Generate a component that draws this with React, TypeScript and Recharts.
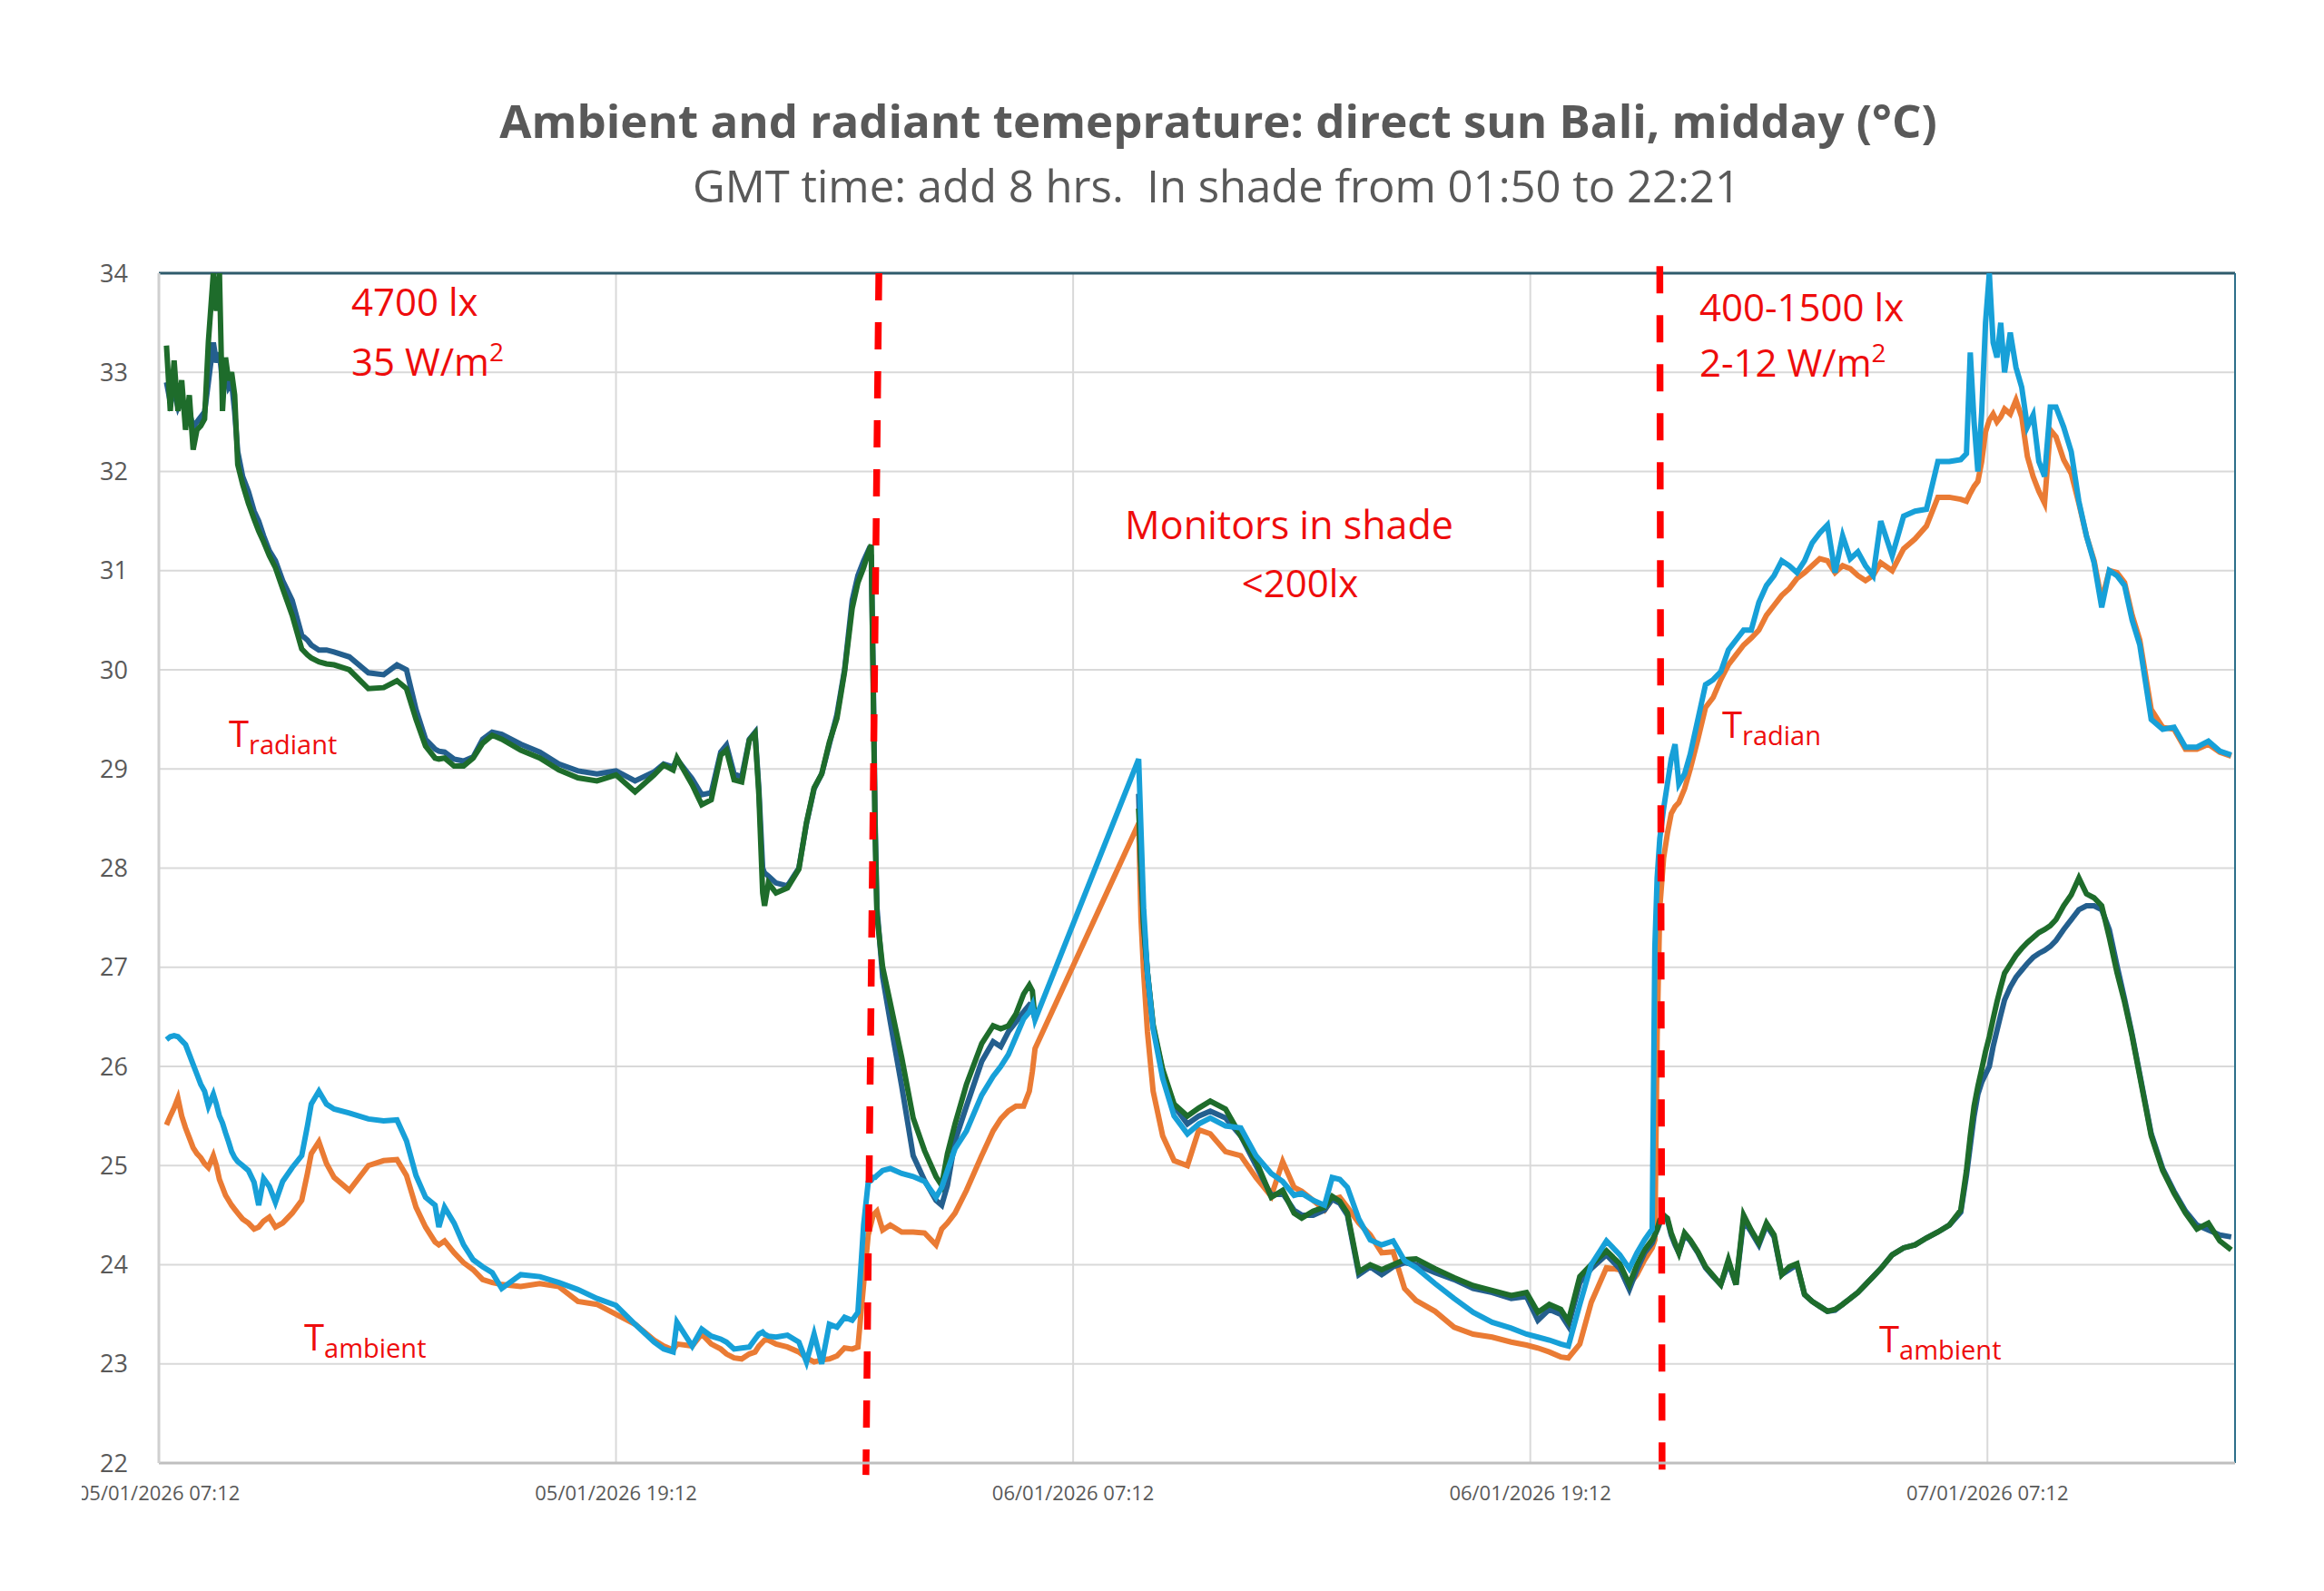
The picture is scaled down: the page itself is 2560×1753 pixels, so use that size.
import { CartesianGrid, Line, LineChart, ReferenceLine, XAxis, YAxis } from "recharts";

// hours since 05/01/2026 07:12
const hours = [
  0.2, 0.3, 0.4, 0.5, 0.6, 0.7, 0.8, 0.9, 1.0, 1.1,
  1.2, 1.3, 1.43, 1.51, 1.59, 1.67, 1.75, 1.83, 1.91, 1.99,
  2.07, 2.2, 2.35, 2.5, 2.62, 2.75, 2.9, 3.06, 3.25, 3.5,
  3.75, 3.9, 4.0, 4.2, 4.4, 4.6, 5.0, 5.5, 5.9, 6.25,
  6.5, 6.75, 7.0, 7.25, 7.35, 7.5, 7.75, 8.0, 8.25, 8.5,
  8.75, 9.0, 9.5, 10.0, 10.5, 11.0, 11.5, 12.0, 12.5, 13.0,
  13.25, 13.5, 13.6, 14.0, 14.25, 14.5, 14.75, 14.9, 15.1, 15.3,
  15.5, 15.65, 15.75, 15.85, 15.9, 16.0, 16.2, 16.5, 16.8, 17.0,
  17.2, 17.4, 17.6, 17.8, 18.0, 18.2, 18.35, 18.5, 18.62, 18.7,
  18.75, 18.8, 18.85, 19.0, 19.2, 19.5, 19.8, 20.1, 20.4, 20.55,
  20.7, 20.9, 21.2, 21.6, 21.9, 22.1, 22.3, 22.5, 22.7, 22.85,
  22.93, 23.0, 24.5, 25.72, 25.78, 25.85, 25.95, 26.1, 26.35, 26.65,
  27.0, 27.3, 27.6, 28.0, 28.4, 28.8, 29.2, 29.5, 29.8, 30.0,
  30.3, 30.6, 30.8, 31.0, 31.2, 31.5, 31.8, 32.1, 32.4, 32.7,
  33.0, 33.5, 34.0, 34.5, 35.0, 35.5, 35.9, 36.2, 36.5, 36.8,
  37.0, 37.3, 37.6, 38.0, 38.35, 38.6, 38.8, 39.0, 39.2, 39.27,
  39.33, 39.4, 39.5, 39.6, 39.7, 39.8, 39.9, 40.05, 40.2, 40.4,
  40.6, 40.8, 41.0, 41.2, 41.4, 41.6, 41.8, 42.0, 42.2, 42.4,
  42.6, 42.8, 43.0, 43.2, 43.4, 43.6, 43.8, 44.0, 44.2, 44.4,
  44.6, 44.8, 45.0, 45.2, 45.5, 45.8, 46.1, 46.4, 46.7, 47.0,
  47.3, 47.45, 47.55, 47.65, 47.75, 47.85, 47.95, 48.05, 48.15, 48.25,
  48.35, 48.45, 48.6, 48.75, 48.9, 49.05, 49.2, 49.35, 49.5, 49.65,
  49.8, 50.0, 50.2, 50.4, 50.6, 50.8, 51.0, 51.2, 51.4, 51.6,
  51.8, 52.0, 52.3, 52.6, 52.9, 53.2, 53.5, 53.8, 54.1, 54.4,
];

const darkBlue = [
  32.9, 32.7, 32.8, 32.65, 32.75, 32.55, 32.6, 32.45, 32.5, 32.55,
  32.6, 32.9, 33.3, 33.1, 33.2, 32.9, 33.0, 32.85, 32.9, 32.6,
  32.2, 31.95, 31.8, 31.6, 31.5, 31.35, 31.2, 31.1, 30.9, 30.7,
  30.35, 30.3, 30.25, 30.2, 30.2, 30.18, 30.13, 29.97, 29.95, 30.05,
  30.0, 29.6, 29.3, 29.2, 29.18, 29.17, 29.1, 29.08, 29.12, 29.3,
  29.37, 29.35, 29.25, 29.17, 29.05, 28.98, 28.95, 28.98, 28.88, 28.97,
  29.05, 29.02, 29.1, 28.9, 28.74, 28.76, 29.17, 29.24, 28.95, 28.92,
  29.3, 29.37, 28.8, 28.0, 27.95, 27.92, 27.85, 27.82, 28.0, 28.45,
  28.8, 28.95, 29.25, 29.55, 30.0, 30.7, 30.95, 31.1, 31.2, 31.15,
  30.0, 28.5, 27.6, 26.9, 26.45, 25.8, 25.1, 24.85, 24.65, 24.6,
  24.8, 25.25, 25.6, 26.05, 26.25, 26.2, 26.35, 26.45, 26.55, 26.62,
  26.6, 26.47, null, 28.75, 28.0, 27.4, 26.95, 26.4, 25.95, 25.6,
  25.42, 25.5, 25.55, 25.48, 25.3, 25.0, 24.7, 24.72, 24.55, 24.5,
  24.5, 24.55, 24.66, 24.62, 24.5, 23.9, 23.98, 23.9, 23.98, 24.02,
  24.0, 23.92, 23.85, 23.76, 23.72, 23.66, 23.68, 23.44, 23.55, 23.5,
  23.38, 23.82, 23.96, 24.1, 23.96, 23.75, 23.95, 24.12, 24.22, 24.3,
  24.35, 24.42, 24.5, 24.45, 24.3, 24.2, 24.12, 24.3, 24.24, 24.12,
  23.97, 23.88, 23.8, 24.02, 23.8, 24.45, 24.33, 24.2, 24.4, 24.28,
  23.9, 23.95, 24.0, 23.7, 23.63, 23.58, 23.53, 23.54, 23.6, 23.66,
  23.72, 23.8, 23.88, 23.96, 24.1, 24.17, 24.2, 24.27, 24.33, 24.4,
  24.53, 24.9, 25.2, 25.5, 25.72, 25.84, 25.92, 26.0, 26.2, 26.36,
  26.52, 26.67, 26.8, 26.9, 26.97, 27.04, 27.1, 27.14, 27.17, 27.21,
  27.27, 27.38, 27.48, 27.58, 27.62, 27.62, 27.58, 27.38, 27.02, 26.68,
  26.32, 25.92, 25.32, 24.97, 24.74, 24.54, 24.4, 24.35, 24.3, 24.28,
];

const green = [
  33.27, 32.61, 33.12, 32.61, 32.92, 32.42, 32.77, 32.22, 32.42, 32.46,
  32.53, 33.31, 34.0, 33.62, 34.0, 32.61, 33.15, 32.92, 33.0, 32.77,
  32.07, 31.87, 31.68, 31.52, 31.4, 31.29, 31.15, 31.03, 30.82, 30.55,
  30.21, 30.15, 30.12, 30.08, 30.06, 30.05, 30.0, 29.81, 29.82, 29.89,
  29.81, 29.5, 29.23, 29.11, 29.1, 29.11, 29.03, 29.03, 29.11, 29.26,
  29.34, 29.3, 29.19, 29.11, 28.99, 28.91, 28.88, 28.94, 28.77, 28.94,
  29.04, 28.99, 29.11, 28.84, 28.64, 28.69, 29.14, 29.19, 28.89, 28.87,
  29.29, 29.36, 28.74, 27.75, 27.62, 27.85, 27.75, 27.8, 27.99, 28.46,
  28.81, 28.95, 29.27, 29.51, 29.98, 30.62, 30.88, 31.03, 31.18, 31.26,
  29.86, 28.4, 27.52, 27.0, 26.64, 26.09, 25.48, 25.15, 24.89, 24.8,
  25.12, 25.42, 25.82, 26.23, 26.41, 26.38, 26.41, 26.53, 26.73, 26.82,
  26.76, 26.47, null, 28.6, 28.05, 27.45, 26.95, 26.42, 25.97, 25.62,
  25.5, 25.58, 25.65, 25.57, 25.3, 25.05, 24.68, 24.75, 24.52, 24.47,
  24.54, 24.58, 24.69, 24.64, 24.52, 23.93, 24.0, 23.95, 24.0, 24.05,
  24.06, 23.96, 23.87, 23.79, 23.74, 23.69, 23.72, 23.52, 23.6, 23.55,
  23.43, 23.88, 24.0, 24.14, 24.01, 23.8, 24.0, 24.15, 24.25, 24.3,
  24.36, 24.45, 24.5, 24.47, 24.32, 24.22, 24.12, 24.32, 24.25, 24.13,
  23.98, 23.89, 23.8, 24.05, 23.8, 24.5, 24.35, 24.22, 24.42, 24.3,
  23.9, 23.98, 24.01, 23.7, 23.63, 23.58, 23.53, 23.55, 23.6, 23.66,
  23.72, 23.8, 23.88, 23.96, 24.1, 24.17, 24.2, 24.27, 24.33, 24.4,
  24.55, 24.95, 25.3, 25.6, 25.8, 25.97, 26.15, 26.3, 26.48, 26.65,
  26.8, 26.94, 27.03, 27.12, 27.19, 27.25, 27.3, 27.35, 27.38, 27.42,
  27.48, 27.62, 27.73, 27.9, 27.74, 27.7, 27.62, 27.3, 26.95, 26.65,
  26.3, 25.9, 25.3, 24.95, 24.72, 24.52, 24.36, 24.42, 24.24, 24.15,
];

const lightBlue = [
  26.27, 26.3, 26.31, 26.3, 26.26, 26.22, 26.12, 26.02, 25.92, 25.82,
  25.75, 25.6, 25.72, 25.62, 25.5, 25.43, 25.33, 25.24, 25.14, 25.08,
  25.04, 25.0, 24.95, 24.83, 24.6, 24.87, 24.79, 24.63, 24.84, 24.98,
  25.1, 25.4, 25.62, 25.75, 25.62, 25.57, 25.53, 25.47, 25.45, 25.46,
  25.25, 24.9, 24.68, 24.6, 24.38, 24.58, 24.42, 24.2, 24.05, 23.98,
  23.92, 23.76, 23.9, 23.88, 23.82, 23.75, 23.66, 23.59, 23.4, 23.22,
  23.15, 23.12, 23.42, 23.18, 23.35, 23.28, 23.25, 23.22, 23.15, 23.16,
  23.17, 23.25, 23.3, 23.32, 23.3, 23.28, 23.27, 23.29, 23.22, 23.02,
  23.3, 23.0, 23.4, 23.37, 23.47, 23.44, 23.52, 24.4, 24.83, 24.85,
  24.88, 24.88, 24.9, 24.95, 24.97, 24.92, 24.89, 24.84, 24.68, 24.78,
  24.95, 25.17, 25.35, 25.71, 25.9, 26.0, 26.12, 26.3, 26.48, 26.55,
  26.62, 26.47, null, 29.1, 28.4, 27.6, 26.94, 26.38, 25.88, 25.5,
  25.32, 25.42, 25.48, 25.4, 25.38, 25.1, 24.92, 24.84, 24.7, 24.72,
  24.65, 24.6, 24.88, 24.86, 24.78, 24.46, 24.25, 24.2, 24.24, 24.04,
  23.97, 23.81, 23.66, 23.52, 23.42, 23.36, 23.3, 23.27, 23.24, 23.2,
  23.18, 23.6, 24.0, 24.24, 24.1, 23.96, 24.12, 24.25, 24.36, 27.2,
  27.9, 28.3, 28.6, 28.85, 29.1, 29.25, 28.85, 28.95, 29.15, 29.5,
  29.85, 29.9, 29.98, 30.2, 30.3, 30.4, 30.4, 30.68, 30.85, 30.95,
  31.1, 31.05, 30.98, 31.1, 31.28, 31.38, 31.46, 30.98, 31.35, 31.12,
  31.19, 31.05, 30.95, 31.5, 31.15, 31.55, 31.6, 31.62, 32.1, 32.1,
  32.12, 32.18, 33.2, 32.5, 32.0, 32.6, 33.5, 34.0, 33.3, 33.15,
  33.5, 33.0, 33.4, 33.05, 32.85, 32.45, 32.57, 32.1, 31.95, 32.65,
  32.65, 32.45, 32.2, 31.7, 31.35, 31.08, 30.63, 31.0, 30.95, 30.85,
  30.5, 30.25, 29.5, 29.4, 29.42, 29.22, 29.22, 29.28, 29.18, 29.14,
];

const orange = [
  25.41, 25.5, 25.58, 25.68, 25.5, 25.38, 25.28, 25.18, 25.12, 25.08,
  25.02, 24.98, 25.1, 25.0, 24.86, 24.78, 24.7, 24.65, 24.6, 24.56,
  24.52, 24.46, 24.42, 24.36, 24.38, 24.44, 24.48, 24.38, 24.42, 24.52,
  24.65, 24.92, 25.12, 25.24, 25.02, 24.88, 24.75, 25.0, 25.05, 25.06,
  24.9, 24.58, 24.38, 24.23, 24.2, 24.24, 24.12, 24.02, 23.95, 23.85,
  23.82, 23.8, 23.78, 23.81, 23.78, 23.63, 23.6, 23.5, 23.4, 23.24,
  23.18, 23.14, 23.2, 23.18, 23.3, 23.2, 23.15, 23.1, 23.06, 23.05,
  23.1, 23.12, 23.18, 23.22, 23.24, 23.24, 23.2, 23.17, 23.12, 23.06,
  23.02, 23.04, 23.05, 23.08, 23.16, 23.15, 23.17, 23.8, 24.3, 24.42,
  24.5, 24.52, 24.54, 24.35, 24.4, 24.33, 24.33, 24.32, 24.2, 24.36,
  24.42, 24.52, 24.75, 25.1, 25.35, 25.47, 25.55, 25.6, 25.6, 25.75,
  25.95, 26.18, null, 28.45, 27.5, 26.95, 26.35, 25.75, 25.3, 25.05,
  25.0, 25.36, 25.32, 25.14, 25.1, 24.88, 24.69, 25.04, 24.78, 24.74,
  24.65, 24.55, 24.66, 24.68, 24.58, 24.42, 24.3, 24.12, 24.13, 23.76,
  23.64, 23.53, 23.37, 23.3, 23.27, 23.22, 23.19, 23.16, 23.12, 23.07,
  23.06, 23.2, 23.62, 23.97, 23.95, 23.8, 23.9, 24.05, 24.17, 24.25,
  26.3, 27.6, 28.1, 28.35, 28.55, 28.62, 28.66, 28.8, 29.0, 29.3,
  29.62, 29.72, 29.9, 30.05, 30.15, 30.25, 30.32, 30.4, 30.55, 30.65,
  30.75, 30.82, 30.92, 30.98, 31.05, 31.12, 31.1, 30.98, 31.05, 31.02,
  30.95, 30.9, 30.95, 31.08, 31.0, 31.22, 31.32, 31.45, 31.74, 31.74,
  31.72, 31.7, 31.78, 31.85, 31.9, 32.1, 32.4, 32.52, 32.58, 32.5,
  32.55, 32.63, 32.58, 32.72, 32.55, 32.15, 31.95, 31.8, 31.68, 32.42,
  32.35, 32.12, 31.98, 31.68, 31.35, 31.1, 30.7, 31.0, 30.98, 30.88,
  30.55, 30.3, 29.6, 29.42, 29.4, 29.2, 29.2, 29.25, 29.17, 29.13,
];

const xTicks = [0, 12, 24, 36, 48];
const xTickLabels = ["05/01/2026 07:12", "05/01/2026 19:12", "06/01/2026 07:12", "06/01/2026 19:12", "07/01/2026 07:12"];
const yTicks = [22, 23, 24, 25, 26, 27, 28, 29, 30, 31, 32, 33, 34];

// start / end of the shade period, drawn as slanted dashed markers
const shadeStart = [{ x: 18.9, y: 34 }, { x: 18.56, y: 21.88 }];
const shadeEnd = [{ x: 39.4, y: 34.07 }, { x: 39.46, y: 21.9 }];

const data = hours.map((h, i) => ({
  h,
  darkBlue: darkBlue[i],
  green: green[i],
  lightBlue: lightBlue[i],
  orange: orange[i],
}));

const FONT = "'Open Sans', sans-serif";
const RED = "#ee0c0c";
const GREY = "#595959";

const Sub = ({ x, y, main, sub }: { x: number; y: number; main: string; sub: string }) => (
  <text x={x} y={y} fill={RED} fontFamily={FONT} fontSize={40}>
    {main}
    <tspan fontSize={29} dy={8}>{sub}</tspan>
  </text>
);

const App = () => {
  return (
    <div style={{ position: "absolute", left: 0, top: 0, width: 2560, height: 1753, background: "#fff" }}>
      <div style={{ position: "absolute", left: 90, top: 0 }}>
        <LineChart
          width={2470}
          height={1753}
          data={data}
          margin={{ top: 301, right: 98, bottom: 81, left: 0 }}
          style={{ fontFamily: FONT }}
        >
          <CartesianGrid stroke="#d9d9d9" strokeWidth={2} />
          <XAxis
            dataKey="h"
            type="number"
            domain={[0, 54.5]}
            ticks={xTicks}
            allowDataOverflow
            height={60}
            tickFormatter={(v: number) => xTickLabels[xTicks.indexOf(v)] ?? ""}
            tick={{ fontSize: 22, fill: GREY }}
            tickLine={false}
            tickSize={6}
            tickMargin={19}
            axisLine={{ stroke: "#bfbfbf", strokeWidth: 3 }}
          />
          <YAxis
            type="number"
            domain={[22, 34]}
            ticks={yTicks}
            allowDataOverflow
            width={85}
            tick={{ fontSize: 27, fill: GREY }}
            tickLine={false}
            tickSize={6}
            tickMargin={28}
            axisLine={{ stroke: "#d0d0d0", strokeWidth: 3 }}
          />
          <ReferenceLine y={34} stroke="#2e5b6c" strokeWidth={3} />
          <ReferenceLine x={54.5} stroke="#2d6f8a" strokeWidth={2} />
          <Line type="linear" dataKey="orange" stroke="#ea7b34" strokeWidth={6} dot={false} connectNulls isAnimationActive={false} />
          <Line type="linear" dataKey="darkBlue" stroke="#245f8e" strokeWidth={6} dot={false} isAnimationActive={false} />
          <Line type="linear" dataKey="green" stroke="#1e6c2b" strokeWidth={6} dot={false} isAnimationActive={false} />
          <Line type="linear" dataKey="lightBlue" stroke="#17a0d8" strokeWidth={6} dot={false} connectNulls isAnimationActive={false} />
          <ReferenceLine segment={shadeStart} stroke="#ff0000" strokeWidth={7.5} strokeDasharray="30 24" ifOverflow="visible" />
          <ReferenceLine segment={shadeEnd} stroke="#ff0000" strokeWidth={7.5} strokeDasharray="30 24" ifOverflow="visible" />
        </LineChart>
      </div>
      <svg width={2560} height={1753} style={{ position: "absolute", left: 0, top: 0, pointerEvents: "none" }}>
        <text x={1342} y={152} textAnchor="middle" fill={GREY} fontFamily={FONT} fontWeight={700} fontSize={51}>
          Ambient and radiant temeprature: direct sun Bali, midday (°C)
        </text>
        <text x={1340} y={223} textAnchor="middle" fill={GREY} fontFamily={FONT} fontSize={49} style={{ whiteSpace: "pre" }}>
          GMT time: add 8 hrs.  In shade from 01:50 to 22:21
        </text>
        <g fill={RED} fontFamily={FONT} fontSize={42}>
          <text x={387} y={348}>4700 lx</text>
          <text x={387} y={414}>
            35 W/m<tspan fontSize={28} dy={-16}>2</tspan>
          </text>
          <text x={1872} y={354}>400-1500 lx</text>
          <text x={1872} y={415}>
            2-12 W/m<tspan fontSize={28} dy={-16}>2</tspan>
          </text>
          <text x={1420} y={594} textAnchor="middle" fontSize={43}>Monitors in shade</text>
          <text x={1432} y={658} textAnchor="middle">&lt;200lx</text>
        </g>
        <Sub x={252} y={823} main="T" sub="radiant" />
        <Sub x={335} y={1488} main="T" sub="ambient" />
        <Sub x={1897} y={813} main="T" sub="radian" />
        <Sub x={2070} y={1490} main="T" sub="ambient" />
      </svg>
    </div>
  );
};

export default App;
